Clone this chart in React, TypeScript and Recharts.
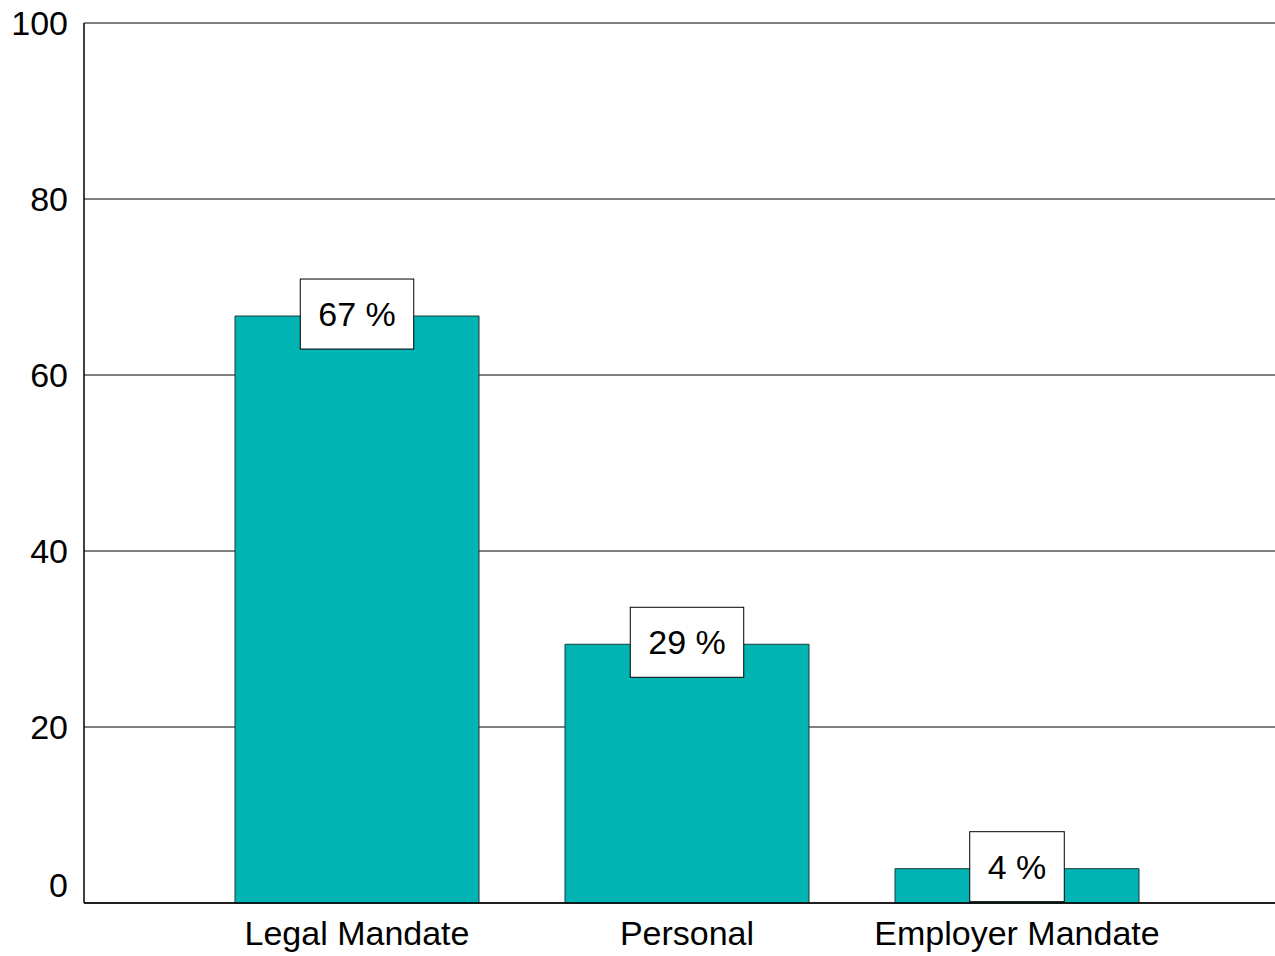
import React from "react";
import { BarChart, Bar, XAxis, YAxis, CartesianGrid, LabelList } from "recharts";

const categories = ["Legal Mandate", "Personal", "Employer Mandate"];
const shares = [66.7, 29.4, 3.9];
const yTicks = [0, 20, 40, 60, 80, 100];

const data = categories.map((name, i) => ({ name, share: shares[i] }));

const FONT = "'Liberation Sans', Arial, sans-serif";
const FS = 34;

// rough Arial widths at 34px
const textWidth = (s: string) =>
  s.split("").reduce((w, c) => w + (c === " " ? 9.45 : c === "%" ? 30.2 : 18.9), 0);

const YTick = (props: any) => {
  const { x, y, payload } = props;
  const shift = payload.value === 0 ? -18 : 0;
  return (
    <text x={x - 8} y={y + shift} dy={12} textAnchor="end" fontSize={FS} fontFamily={FONT} fill="#000">
      {payload.value}
    </text>
  );
};

const XTick = (props: any) => {
  const { x, y, payload } = props;
  return (
    <text x={x} y={y} dy={34} textAnchor="middle" fontSize={FS} fontFamily={FONT} fill="#000">
      {payload.value}
    </text>
  );
};

const BoxLabel = (props: any) => {
  const { x, y, width, value } = props;
  const label = `${Math.round(value)} %`;
  const w = textWidth(label) + 36;
  const h = 70;
  const cx = x + width / 2;
  return (
    <g>
      <rect x={cx - w / 2} y={y - h / 2 - 2} width={w} height={h} fill="#fff" stroke="#000" strokeWidth={1} />
      <text x={cx} y={y - 2} dy={12} textAnchor="middle" fontSize={FS} fontFamily={FONT} fill="#000">
        {label}
      </text>
    </g>
  );
};

export default function App() {
  return (
    <div style={{ position: "absolute", left: 0, top: 0, background: "#fff" }}>
      <BarChart
        width={1275}
        height={956}
        data={data}
        margin={{ top: 23, right: 0, left: 0, bottom: 0 }}
        barCategoryGap={43}
      >
        <CartesianGrid vertical={false} stroke="#000" strokeWidth={1} />
        <XAxis
          dataKey="name"
          height={53}
          padding={{ left: 108, right: 93 }}
          axisLine={{ stroke: "#000", strokeWidth: 1.5 }}
          tickLine={false}
          tick={<XTick />}
          interval={0}
        />
        <YAxis
          width={84}
          domain={[0, 100]}
          ticks={yTicks}
          axisLine={{ stroke: "#000", strokeWidth: 1.5 }}
          tickLine={false}
          tick={<YTick />}
        />
        <Bar dataKey="share" fill="#00b4b4" stroke="#1a3a3a" strokeWidth={1} isAnimationActive={false}>
          <LabelList dataKey="share" content={<BoxLabel />} />
        </Bar>
      </BarChart>
    </div>
  );
}
